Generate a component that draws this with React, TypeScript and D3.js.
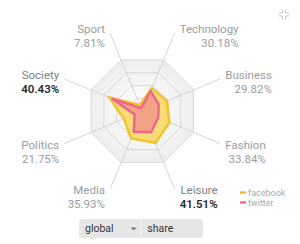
import * as d3 from 'd3';
import { useEffect, useRef } from 'react';

// axis order, clockwise from the top right
const categories = ['Technology', 'Business', 'Fashion', 'Leisure', 'Media', 'Politics', 'Society', 'Sport'];
const shares = ['30.18%', '29.82%', '33.84%', '41.51%', '35.93%', '21.75%', '40.43%', '7.81%'];
const highlighted = ['Leisure', 'Society'];
const facebook = [45, 48, 53, 62, 53, 36, 64, 12];
const twitter = [39, 32, 31, 41, 40, 15, 59, 6];
const levels = [25, 50, 75, 100];
const seriesNames = ['facebook', 'twitter'];
const buttons = ['global', 'share'];

const fills = ['#f8d860', '#f06a94'];
const strokes = ['#f1c232', '#ee6690'];
const fillOpacity = [0.85, 0.5];

export default function App() {
    const ref = useRef<SVGSVGElement>(null);

    useEffect(() => {
        if (!ref.current) return;
        const svg = d3.select(ref.current);
        svg.selectAll('*').remove();

        const cx = 142.3, cy = 111.2, R = 55.5, leader = 29;
        const font = 'Roboto, sans-serif';
        const r = d3.scaleLinear().domain([0, 100]).range([0, R]);
        const angle = d3.scaleLinear().domain([0, categories.length]).range([Math.PI / 8, Math.PI / 8 + 2 * Math.PI]);
        const point = (i: number, rr: number) => [Math.sin(angle(i)) * rr, -Math.cos(angle(i)) * rr];

        const defs = svg.append('defs');
        const grad = defs.append('radialGradient').attr('id', 'bg')
            .attr('gradientUnits', 'userSpaceOnUse').attr('cx', 0).attr('cy', 0).attr('r', R);
        grad.append('stop').attr('offset', '0%').attr('stop-color', '#ffffff');
        grad.append('stop').attr('offset', '100%').attr('stop-color', '#ededed');

        const g = svg.append('g').attr('transform', `translate(${cx},${cy})`);

        const ring = d3.lineRadial<number>()
            .angle((d, i) => angle(i))
            .radius(d => r(d))
            .curve(d3.curveLinearClosed);

        g.append('path')
            .attr('d', ring(categories.map(() => 100)))
            .attr('fill', 'url(#bg)');

        levels.forEach(l => {
            g.append('path')
                .attr('d', ring(categories.map(() => l)))
                .attr('fill', 'none')
                .attr('stroke', '#dadada')
                .attr('stroke-width', 1);
        });

        categories.forEach((c, i) => {
            const [x, y] = point(i, r(100) + leader);
            g.append('line')
                .attr('x1', 0).attr('y1', 0).attr('x2', x).attr('y2', y)
                .attr('stroke', '#d6d6d6').attr('stroke-width', 1);
        });

        [facebook, twitter].forEach((s, k) => {
            g.append('path')
                .attr('d', ring(s))
                .attr('fill', fills[k])
                .attr('fill-opacity', fillOpacity[k])
                .attr('stroke', strokes[k])
                .attr('stroke-width', 2.5)
                .attr('stroke-linejoin', 'miter');
        });

        // labels
        categories.forEach((c, i) => {
            const [x, y] = point(i, r(100) + leader);
            const hl = highlighted.includes(c);
            const base = y + (y > 0 ? 5 : 0);
            const lg = g.append('g');
            const t1 = lg.append('text').text(c)
                .attr('y', base).attr('text-anchor', 'end')
                .attr('font-family', font).attr('font-size', 11.5)
                .attr('fill', hl ? '#7c7f83' : '#9a9da1');
            const t2 = lg.append('text').text(shares[i])
                .attr('y', base + 14).attr('text-anchor', 'end')
                .attr('font-family', font).attr('font-size', 11.5)
                .attr('font-weight', hl ? 600 : 400)
                .attr('fill', hl ? '#2a2a2a' : '#9a9da1');
            const w = Math.max(
                (t1.node() as SVGTextElement).getComputedTextLength(),
                (t2.node() as SVGTextElement).getComputedTextLength()
            );
            const tx = x > 0 ? x + 5 + w : x - 5;
            lg.attr('transform', `translate(${tx},0)`);
        });

        // legend
        const legend = svg.append('g').attr('transform', 'translate(240,192.5)');
        seriesNames.forEach((n, k) => {
            legend.append('line')
                .attr('x1', 0).attr('x2', 6).attr('y1', k * 10).attr('y2', k * 10)
                .attr('stroke', k === 0 ? '#f0b830' : '#f06a9a').attr('stroke-width', 2.5);
            legend.append('text').text(n)
                .attr('x', 8).attr('y', k * 10 + 3.3)
                .attr('font-family', font).attr('font-size', 9)
                .attr('fill', '#a8abae');
        });

        // buttons
        const bx = d3.scaleBand().domain(buttons).range([79, 203]).paddingInner(0.01);
        const bg = svg.append('g').attr('transform', 'translate(0,219)');
        buttons.forEach((b, k) => {
            const x0 = bx(b)!, bw = bx.bandwidth();
            const rr = 3, h = 19;
            const p = d3.path();
            if (k === 0) {
                p.moveTo(x0 + rr, 0); p.lineTo(x0 + bw, 0); p.lineTo(x0 + bw, h); p.lineTo(x0 + rr, h);
                p.arcTo(x0, h, x0, h - rr, rr); p.lineTo(x0, rr); p.arcTo(x0, 0, x0 + rr, 0, rr);
            } else {
                p.moveTo(x0, 0); p.lineTo(x0 + bw - rr, 0); p.arcTo(x0 + bw, 0, x0 + bw, rr, rr);
                p.lineTo(x0 + bw, h - rr); p.arcTo(x0 + bw, h, x0 + bw - rr, h, rr); p.lineTo(x0, h);
            }
            p.closePath();
            bg.append('path').attr('d', p.toString()).attr('fill', '#e6e6e6');
            bg.append('text').text(b)
                .attr('x', x0 + 6).attr('y', 13.3)
                .attr('font-family', font).attr('font-size', 10.5)
                .attr('fill', '#333');
            if (k === 0) {
                bg.append('path')
                    .attr('d', `M${x0 + bw - 10},8.5 l6,0 l-3,3 z`)
                    .attr('fill', '#777');
            }
        });

        // collapse icon
        const icon = svg.append('g').attr('transform', 'translate(284,14.5)')
            .attr('stroke', '#c4c4c4').attr('stroke-width', 1).attr('fill', 'none');
        [[-1, -1], [1, -1], [-1, 1], [1, 1]].forEach(([sx, sy]) => {
            icon.append('path').attr('d', `M${sx * 5},${sy * 1.5} L${sx * 1.5},${sy * 1.5} L${sx * 1.5},${sy * 5}`);
        });
    }, []);

    return (
        <div style={{ position: 'fixed', left: 0, top: 0, width: 300, height: 244, background: '#fff' }}>
            <svg ref={ref} width={300} height={244} style={{ display: 'block' }} />
        </div>
    );
}
